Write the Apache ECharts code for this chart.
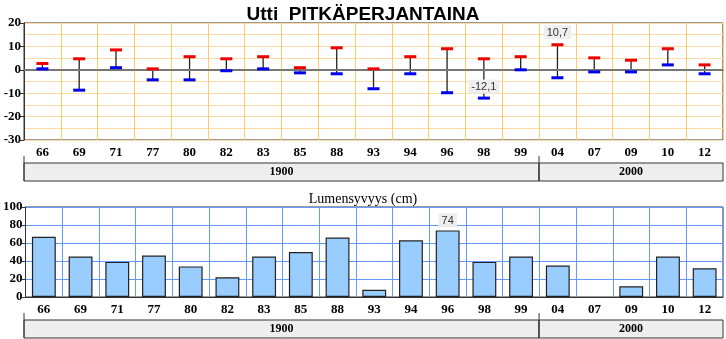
<!DOCTYPE html>
<html>
<head>
<meta charset="utf-8">
<script src="https://cdn.jsdelivr.net/npm/echarts@6/dist/echarts.min.js"></script>
<style>html,body{margin:0;padding:0;background:#fff}#c{width:726px;height:339px}</style>
</head>
<body>
<div id="c"></div>
<script>
var categories = ['66','69','71','77','80','82','83','85','88','93','94','96','98','99','04','07','09','10','12'];
var maxTemp = [2.7,4.7,8.5,0.4,5.6,4.7,5.6,0.9,9.4,0.4,5.6,9.0,4.7,5.6,10.7,5.1,4.1,9.0,2.1];
var minTemp = [0.4,-8.7,0.9,-4.3,-4.3,-0.4,0.4,-1.3,-1.7,-8.1,-1.7,-9.8,-12.1,0,-3.4,-0.9,-0.9,2.1,-1.7];
var snowDepth = [67,45,39,46,34,22,45,50,66,8,63,74,39,45,35,'-',12,45,32];
var groupNames = ['1900','2000'];
var groupStart = [0,14];
var groupEnd = [13,18];
var tempTicks = [-30,-20,-10,0,10,20];
var snowTicks = [0,20,40,60,80,100];
var maxLabelIdx = 14, minLabelIdx = 12, snowLabelIdx = 11;

var serifBold = {fontFamily:'Liberation Serif', fontWeight:'bold', fontSize:13, color:'#000'};
var labelBox = {backgroundColor:'#eeeeee', padding:[2,3,1,3], color:'#333', fontSize:11, fontFamily:'Liberation Sans'};
function comma(v){ return String(v).replace('.', ','); }

var groups = groupNames.map(function(n,i){ return [groupStart[i], groupEnd[i], n]; });

function bandRender(params, api){
  var s = api.value(0), e = api.value(1);
  var cs = params.coordSys;
  var bw = api.size([1,0])[0];
  var x0 = api.coord([s,0])[0] - bw/2;
  var x1 = api.coord([e,0])[0] + bw/2;
  var top = cs.y + 7, bot = cs.y + cs.height;
  return {type:'group', children:[
    {type:'rect', shape:{x:x0, y:top, width:x1-x0, height:bot-top}, style:{fill:'#eeeeee', stroke:'#333', lineWidth:1}},
    {type:'line', shape:{x1:x0, y1:cs.y, x2:x0, y2:bot}, style:{stroke:'#333', lineWidth:1}},
    {type:'text', style:{text:api.value(2), x:(x0+x1)/2, y:(top+bot)/2, align:'center', verticalAlign:'middle',
      font:'bold 12px "Liberation Serif"', fill:'#000'}}
  ]};
}

var chart = echarts.init(document.getElementById('c'));
var option = {
  animation:false,
  title:[
    {text:'Utti  PITKÄPERJANTAINA', left:'center', top:0, textStyle:{fontFamily:'Liberation Sans', fontWeight:'bold', fontSize:19, color:'#000'}},
    {text:'Lumensyvyys (cm)', left:'center', top:187, textStyle:{fontFamily:'Liberation Serif', fontWeight:'normal', fontSize:14, color:'#000'}}
  ],
  grid:[
    {left:24, right:3, top:23, height:117, show:true, borderColor:'#333', borderWidth:1},
    {left:24, right:3, top:156, height:25},
    {left:24, right:3, top:207, height:90, show:true, borderColor:'#333', borderWidth:1},
    {left:24, right:3, top:313, height:25}
  ],
  xAxis:[
    {type:'category', gridIndex:0, data:categories, axisLine:{lineStyle:{color:'#333'}}, axisTick:{length:4, lineStyle:{color:'#333'}},
      axisLabel:Object.assign({margin:6}, serifBold), splitLine:{show:true, lineStyle:{color:'#ffcc66'}}},
    {type:'category', gridIndex:1, data:categories, show:false},
    {type:'category', gridIndex:2, data:categories, axisLine:{lineStyle:{color:'#333'}}, axisTick:{length:4, lineStyle:{color:'#333'}},
      axisLabel:Object.assign({margin:6}, serifBold), splitLine:{show:true, lineStyle:{color:'#6699ff'}}},
    {type:'category', gridIndex:3, data:categories, show:false}
  ],
  yAxis:[
    {type:'value', gridIndex:0, min:tempTicks[0], max:tempTicks[tempTicks.length-1], interval:10,
      axisLine:{show:true, lineStyle:{color:'#333'}}, axisTick:{show:true, length:4, lineStyle:{color:'#333'}},
      axisLabel:Object.assign({margin:3}, serifBold),
      splitLine:{lineStyle:{color:'#ffdba6'}}, minorTick:{show:false, splitNumber:2}, minorSplitLine:{show:true, lineStyle:{color:'#ffdba6'}}},
    {type:'value', gridIndex:1, min:0, max:1, show:false},
    {type:'value', gridIndex:2, min:snowTicks[0], max:snowTicks[snowTicks.length-1], interval:20,
      axisLine:{show:true, lineStyle:{color:'#333'}}, axisTick:{show:true, length:4, lineStyle:{color:'#333'}},
      axisLabel:Object.assign({margin:3}, serifBold),
      splitLine:{lineStyle:{color:'#6699ff'}}},
    {type:'value', gridIndex:3, min:0, max:1, show:false}
  ],
  series:[
    {type:'line', xAxisIndex:0, yAxisIndex:0, z:1, data:[], silent:true,
      markLine:{silent:true, symbol:'none', label:{show:false}, lineStyle:{color:'#777', width:2, type:'solid'}, data:[{yAxis:0}]}},
    {type:'custom', xAxisIndex:0, yAxisIndex:0, z:3,
      data:categories.map(function(c,i){ return [i, minTemp[i], maxTemp[i]]; }),
      renderItem:function(params, api){
        var p1 = api.coord([api.value(0), api.value(1)]);
        var p2 = api.coord([api.value(0), api.value(2)]);
        return {type:'line', shape:{x1:p1[0], y1:p1[1], x2:p2[0], y2:p2[1]}, style:{stroke:'#222', lineWidth:1.3}};
      }
    },
    {type:'scatter', xAxisIndex:0, yAxisIndex:0, z:5, symbol:'rect', symbolSize:[12,3], itemStyle:{color:'#ee0000', opacity:1},
      data:maxTemp.map(function(v,i){ return i===maxLabelIdx ? {value:v, label:Object.assign({show:true, position:'top', distance:4, formatter:function(p){return comma(p.value);}}, labelBox)} : v; })},
    {type:'scatter', xAxisIndex:0, yAxisIndex:0, z:5, symbol:'rect', symbolSize:[12,3], itemStyle:{color:'#0000ee', opacity:1},
      data:minTemp.map(function(v,i){ return i===minLabelIdx ? {value:v, label:Object.assign({show:true, position:'top', distance:3, formatter:function(p){return comma(p.value);}}, labelBox)} : v; })},
    {type:'custom', xAxisIndex:1, yAxisIndex:1, data:groups, renderItem:bandRender},
    {type:'bar', xAxisIndex:2, yAxisIndex:2, barWidth:'65%', itemStyle:{color:'#99ccff', borderColor:'#222', borderWidth:1.2},
      data:snowDepth.map(function(v,i){ return i===snowLabelIdx ? {value:v, label:Object.assign({show:true, position:'top', distance:3}, labelBox)} : v; })},
    {type:'custom', xAxisIndex:3, yAxisIndex:3, data:groups, renderItem:bandRender}
  ]
};
chart.setOption(option);
</script>
</body>
</html>
